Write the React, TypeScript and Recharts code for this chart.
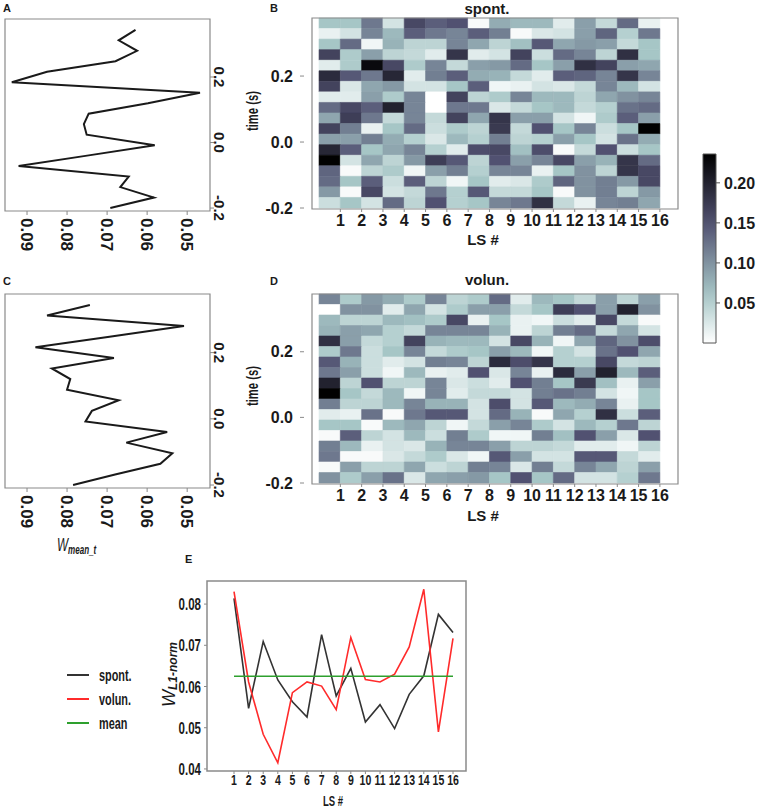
import React from "react"
import {
  ComposedChart,
  LineChart,
  Line,
  XAxis,
  YAxis,
  ReferenceArea,
  Legend,
} from "recharts"

// time bins (s), bottom row first; each bin is TIME_STEP wide
const TIME = [-0.2, -0.168, -0.136, -0.104, -0.072, -0.04, -0.008, 0.024, 0.056, 0.088, 0.12, 0.152, 0.184, 0.216, 0.248, 0.28, 0.312, 0.344]
const TIME_STEP = 0.032
const LS = [1, 2, 3, 4, 5, 6, 7, 8, 9, 10, 11, 12, 13, 14, 15, 16]

// W_mean_t per time bin (same order as TIME)
const SPONT_MEAN_T = [0.0692, 0.0583, 0.0667, 0.0646, 0.0921, 0.075, 0.0581, 0.0751, 0.0758, 0.0746, 0.0598, 0.0468, 0.0938, 0.085, 0.0679, 0.0625, 0.0671, 0.0629]
const VOLUN_MEAN_T = [0.0785, 0.068, 0.0567, 0.0537, 0.0652, 0.055, 0.0754, 0.0738, 0.0671, 0.08, 0.0792, 0.0838, 0.0683, 0.0879, 0.0694, 0.0508, 0.085, 0.0743]

// weights per LS, rows listed from the top (latest bin) down
const SPONT_W = [
  [0.06, 0.06, 0.12, 0.03, 0.16, 0.14, 0.15, 0.005, 0.08, 0.07, 0.07, 0.02, 0.09, 0.04, 0.13, 0.015],
  [0.015, 0.03, 0.11, 0.07, 0.14, 0.12, 0.11, 0.14, 0.115, 0.005, 0.025, 0.03, 0.09, 0.135, 0.05, 0.12],
  [0.06, 0.13, 0.01, 0.075, 0.045, 0.045, 0.11, 0.085, 0.045, 0.065, 0.145, 0.085, 0.095, 0.09, 0.04, 0.06],
  [0.165, 0.055, 0.09, 0.045, 0.04, 0.02, 0.18, 0.02, 0.03, 0.165, 0.035, 0.13, 0.11, 0.045, 0.185, 0.06],
  [0.02, 0.055, 0.225, 0.16, 0.055, 0.11, 0.04, 0.09, 0.095, 0.13, 0.06, 0.09, 0.185, 0.165, 0.09, 0.085],
  [0.19, 0.145, 0.12, 0.195, 0.02, 0.115, 0.14, 0.08, 0.075, 0.04, 0.02, 0.14, 0.135, 0.11, 0.18, 0.11],
  [0.165, 0.025, 0.085, 0.095, 0.03, 0.03, 0.06, 0.14, 0.01, 0.015, 0.03, 0.025, 0.04, 0.11, 0.07, 0.03],
  [0.02, 0.02, 0.09, 0.055, 0.11, 0.0, 0.165, 0.045, 0.055, 0.11, 0.07, 0.07, 0.045, 0.085, 0.1, 0.11],
  [0.13, 0.16, 0.14, 0.2, 0.11, 0.0, 0.12, 0.12, 0.025, 0.04, 0.06, 0.07, 0.04, 0.05, 0.125, 0.13],
  [0.085, 0.17, 0.12, 0.04, 0.11, 0.04, 0.165, 0.085, 0.18, 0.09, 0.09, 0.03, 0.01, 0.055, 0.14, 0.09],
  [0.165, 0.115, 0.015, 0.06, 0.13, 0.035, 0.055, 0.045, 0.175, 0.04, 0.15, 0.06, 0.11, 0.035, 0.06, 0.235],
  [0.09, 0.09, 0.115, 0.08, 0.05, 0.025, 0.07, 0.05, 0.115, 0.045, 0.05, 0.09, 0.06, 0.03, 0.125, 0.08],
  [0.195, 0.14, 0.06, 0.085, 0.11, 0.05, 0.02, 0.155, 0.16, 0.065, 0.155, 0.005, 0.04, 0.15, 0.035, 0.06],
  [0.235, 0.03, 0.085, 0.045, 0.095, 0.17, 0.145, 0.045, 0.15, 0.09, 0.11, 0.16, 0.09, 0.075, 0.18, 0.13],
  [0.135, 0.005, 0.045, 0.055, 0.01, 0.09, 0.115, 0.05, 0.11, 0.11, 0.015, 0.06, 0.1, 0.045, 0.18, 0.16],
  [0.13, 0.06, 0.14, 0.035, 0.14, 0.045, 0.01, 0.06, 0.02, 0.025, 0.055, 0.135, 0.1, 0.115, 0.095, 0.16],
  [0.095, 0.005, 0.16, 0.03, 0.04, 0.12, 0.05, 0.145, 0.04, 0.04, 0.06, 0.005, 0.1, 0.115, 0.045, 0.095],
  [0.035, 0.06, 0.03, 0.13, 0.045, 0.15, 0.05, 0.06, 0.11, 0.12, 0.185, 0.04, 0.015, 0.11, 0.115, 0.085],
]

const VOLUN_W = [
  [0.11, 0.055, 0.095, 0.08, 0.055, 0.11, 0.045, 0.055, 0.13, 0.02, 0.07, 0.06, 0.04, 0.09, 0.045, 0.09],
  [0.0, 0.1, 0.1, 0.02, 0.085, 0.03, 0.055, 0.09, 0.09, 0.04, 0.06, 0.17, 0.15, 0.09, 0.2, 0.1],
  [0.07, 0.045, 0.045, 0.07, 0.065, 0.055, 0.16, 0.015, 0.06, 0.015, 0.01, 0.035, 0.02, 0.16, 0.04, 0.005],
  [0.075, 0.09, 0.085, 0.05, 0.04, 0.11, 0.11, 0.11, 0.075, 0.015, 0.045, 0.115, 0.13, 0.04, 0.085, 0.03],
  [0.185, 0.09, 0.04, 0.05, 0.165, 0.075, 0.07, 0.07, 0.03, 0.16, 0.075, 0.01, 0.085, 0.135, 0.1, 0.155],
  [0.055, 0.12, 0.035, 0.06, 0.11, 0.04, 0.055, 0.06, 0.09, 0.07, 0.01, 0.05, 0.03, 0.125, 0.15, 0.085],
  [0.145, 0.075, 0.035, 0.02, 0.03, 0.115, 0.11, 0.045, 0.19, 0.155, 0.18, 0.05, 0.05, 0.16, 0.04, 0.045],
  [0.12, 0.09, 0.035, 0.01, 0.07, 0.015, 0.02, 0.15, 0.025, 0.11, 0.015, 0.19, 0.09, 0.2, 0.07, 0.14],
  [0.2, 0.045, 0.15, 0.045, 0.045, 0.11, 0.025, 0.035, 0.02, 0.15, 0.115, 0.06, 0.175, 0.065, 0.015, 0.09],
  [0.235, 0.06, 0.04, 0.07, 0.01, 0.11, 0.02, 0.04, 0.04, 0.03, 0.115, 0.125, 0.115, 0.03, 0.01, 0.06],
  [0.115, 0.045, 0.045, 0.07, 0.11, 0.075, 0.075, 0.03, 0.155, 0.03, 0.145, 0.07, 0.08, 0.11, 0.015, 0.06],
  [0.02, 0.015, 0.125, 0.005, 0.12, 0.145, 0.145, 0.03, 0.13, 0.075, 0.005, 0.085, 0.05, 0.185, 0.035, 0.14],
  [0.06, 0.06, 0.005, 0.07, 0.085, 0.045, 0.01, 0.04, 0.09, 0.11, 0.055, 0.03, 0.07, 0.05, 0.12, 0.045],
  [0.005, 0.14, 0.045, 0.03, 0.07, 0.035, 0.115, 0.055, 0.01, 0.01, 0.115, 0.065, 0.15, 0.09, 0.025, 0.15],
  [0.115, 0.07, 0.015, 0.03, 0.025, 0.075, 0.11, 0.11, 0.09, 0.045, 0.045, 0.04, 0.02, 0.02, 0.01, 0.045],
  [0.12, 0.005, 0.005, 0.025, 0.04, 0.055, 0.025, 0.01, 0.145, 0.09, 0.03, 0.03, 0.145, 0.145, 0.04, 0.02],
  [0.005, 0.09, 0.045, 0.045, 0.085, 0.035, 0.045, 0.115, 0.11, 0.025, 0.115, 0.04, 0.11, 0.085, 0.045, 0.09],
  [0.1, 0.055, 0.09, 0.125, 0.025, 0.085, 0.09, 0.095, 0.06, 0.15, 0.06, 0.13, 0.03, 0.03, 0.05, 0.12],
]

// W_L1-norm per LS
const SPONT_L1 = [0.0814, 0.0547, 0.0709, 0.0616, 0.0563, 0.0526, 0.0726, 0.0577, 0.0644, 0.0514, 0.0556, 0.0498, 0.0581, 0.0626, 0.0775, 0.0731]
const VOLUN_L1 = [0.083, 0.0611, 0.0484, 0.0415, 0.0585, 0.0611, 0.0601, 0.0544, 0.0719, 0.0617, 0.0611, 0.063, 0.0696, 0.0836, 0.049, 0.0717]
const MEAN_L1 = 0.0625
const LEGEND_ORDER = ["spont.", "volun.", "mean"]

const TIME_TICKS = [-0.2, 0, 0.2]
const W_TICKS = [0.05, 0.06, 0.07, 0.08, 0.09]
const E_TICKS = [0.04, 0.05, 0.06, 0.07, 0.08]
const CBAR_TICKS = [0.05, 0.1, 0.15, 0.2]
const W_MAX = 0.236

const FONT = "'Liberation Sans', Arial, sans-serif"
const FRAME = "#8a8a8a"
const INK = "#1a1a1a"
const SQUEEZE = 0.68 // panel E lettering is condensed

// matplotlib "bone", used reversed
function bone(x: number) {
  const r = x < 0.746032 ? (0.652778 * x) / 0.746032 : 0.652778 + ((x - 0.746032) / 0.253968) * 0.347222
  const g =
    x < 0.365079
      ? (0.319444 * x) / 0.365079
      : x < 0.746032
        ? 0.319444 + ((x - 0.365079) / 0.380953) * 0.458334
        : 0.777778 + ((x - 0.746032) / 0.253968) * 0.222222
  const b = x < 0.365079 ? (0.444444 * x) / 0.365079 : 0.444444 + ((x - 0.365079) / 0.634921) * 0.555556
  const h = (v: number) => Math.round(Math.max(0, Math.min(1, v)) * 255).toString(16).padStart(2, "0")
  return `#${h(r)}${h(g)}${h(b)}`
}
const weightColor = (v: number) => bone(1 - Math.min(v, W_MAX) / W_MAX)

// rotated ticks for the sideways panels A / C
const RotValueTick = ({ x, y, payload }: any) => (
  <text x={x} y={y} transform={`rotate(90 ${x} ${y})`} dy="0.35em" textAnchor="start"
    fontFamily={FONT} fontWeight="bold" fontSize={17} fill={INK}>
    {Number(payload.value).toFixed(2)}
  </text>
)

const RotTimeTick = ({ x, y, payload }: any) => (
  <text x={x} y={y} transform={`rotate(90 ${x} ${y})`} textAnchor="middle"
    fontFamily={FONT} fontWeight="bold" fontSize={15} fill={INK}>
    {Number(payload.value).toFixed(1)}
  </text>
)

const HeatTimeTick = ({ x, y, payload }: any) => (
  <g>
    <line x1={x - 12} x2={x - 8} y1={y} y2={y} stroke={FRAME} />
    <text x={x - 19} y={y} dy="0.35em" textAnchor="end" fontFamily={FONT} fontWeight="bold" fontSize={16} fill={INK}>
      {Number(payload.value).toFixed(1)}
    </text>
  </g>
)

const NarrowXTick = ({ x, y, payload }: any) => (
  <g transform={`translate(${x},${y}) scale(${SQUEEZE},1)`}>
    <text x={0} y={0} dy="0.72em" textAnchor="middle" fontFamily={FONT} fontWeight="bold" fontSize={15.5} fill={INK}>
      {payload.value}
    </text>
  </g>
)

const NarrowYTick = ({ x, y, payload }: any) => (
  <g transform={`translate(${x},${y}) scale(${SQUEEZE},1)`}>
    <text x={0} y={0} dy="0.36em" textAnchor="end" fontFamily={FONT} fontWeight="bold" fontSize={17} fill={INK}>
      {Number(payload.value).toFixed(2)}
    </text>
  </g>
)

function TimeLinePanel({ values, height }: { values: number[]; height: number }) {
  const data = TIME.map((t, i) => ({ t, w: values[i] }))
  return (
    <LineChart layout="vertical" width={260} height={height} data={data}
      margin={{ top: 19, right: 10, bottom: 9, left: 5 }}>
      <XAxis type="number" domain={[0.0443, 0.0955]} reversed allowDataOverflow ticks={W_TICKS} interval={0}
        height={50} tickSize={4} tickMargin={3} axisLine={false} tickLine={{ stroke: FRAME }} tick={<RotValueTick />} />
      <YAxis type="number" dataKey="t" orientation="right" domain={[-0.209, 0.377]} reversed allowDataOverflow
        ticks={TIME_TICKS} interval={0} width={40} tickSize={4} tickMargin={0} axisLine={false}
        tickLine={{ stroke: FRAME }} tick={<RotTimeTick />} />
      <ReferenceArea x1={0.0443} x2={0.0955} y1={-0.209} y2={0.377} fill="none" stroke={FRAME} strokeWidth={1.2} ifOverflow="visible" />
      <Line dataKey="w" stroke={INK} strokeWidth={2} dot={false} isAnimationActive={false} />
    </LineChart>
  )
}

function HeatPanel({ grid, height }: { grid: number[][]; height: number }) {
  const data = LS.map((ls) => ({ ls }))
  const cells: React.ReactNode[] = []
  grid.forEach((row, r) => {
    const t0 = TIME[TIME.length - 1 - r]
    row.forEach((v, c) => {
      const col = weightColor(v)
      cells.push(
        <ReferenceArea key={`${r}-${c}`} x1={LS[c] - 1} x2={LS[c]} y1={t0} y2={t0 + TIME_STEP}
          fill={col} fillOpacity={1} stroke={col} strokeWidth={0.6} ifOverflow="visible" />
      )
    })
  })
  return (
    <ComposedChart width={460} height={height} data={data} margin={{ top: 18, right: 22, bottom: 8, left: 32 }}>
      <XAxis type="number" dataKey="ls" domain={[-0.33, 16.85]} allowDataOverflow ticks={LS} interval={0} height={32}
        tickSize={3} tickMargin={3} axisLine={false} tickLine={{ stroke: FRAME }}
        tick={{ fontFamily: FONT, fontWeight: "bold", fontSize: 16, fill: INK }} />
      <YAxis type="number" domain={[-0.203, 0.376]} allowDataOverflow ticks={TIME_TICKS} interval={0} width={40}
        tickSize={0} tickMargin={0} axisLine={false} tickLine={false} tick={<HeatTimeTick />} />
      {cells}
      <ReferenceArea x1={-0.33} x2={16.85} y1={-0.203} y2={0.376} fill="none" stroke={FRAME} strokeWidth={1.2} ifOverflow="visible" />
    </ComposedChart>
  )
}

function ColorBar() {
  const stops = [0, 0.1, 0.2, 0.3, 0.4, 0.5, 0.6, 0.7, 0.8, 0.9, 1]
  return (
    <ComposedChart width={70} height={215} data={[{ x: 0 }, { x: 1 }]} margin={{ top: 14, right: 4, bottom: 12, left: 13 }}>
      <defs>
        <linearGradient id="boneR" x1="0" y1="1" x2="0" y2="0">
          {stops.map((s) => (
            <stop key={s} offset={`${s * 100}%`} stopColor={weightColor(s * W_MAX)} />
          ))}
        </linearGradient>
      </defs>
      <XAxis type="number" dataKey="x" domain={[0, 1]} allowDataOverflow hide />
      <YAxis type="number" orientation="right" domain={[0, W_MAX]} allowDataOverflow ticks={CBAR_TICKS} interval={0}
        width={40} tickSize={4} tickMargin={4} axisLine={false} tickLine={{ stroke: "#555" }}
        tickFormatter={(v: number) => v.toFixed(2)}
        tick={{ fontFamily: FONT, fontWeight: "bold", fontSize: 16, fill: INK, textAnchor: "start" }} />
      <ReferenceArea x1={0} x2={1} y1={0} y2={W_MAX} fill="url(#boneR)" fillOpacity={1} stroke="#555" ifOverflow="visible" />
    </ComposedChart>
  )
}

const LegendBox = ({ payload }: any) => {
  const items = [...(payload || [])].sort(
    (a: any, b: any) => LEGEND_ORDER.indexOf(a.value) - LEGEND_ORDER.indexOf(b.value)
  )
  return (
    <svg width={90} height={72}>
      {items.map((p: any, i: number) => (
        <g key={p.value} transform={`translate(0,${12 + i * 24})`}>
          <line x1={0} x2={22} y1={0} y2={0} stroke={p.color} strokeWidth={2} />
          <g transform={`translate(32,0) scale(${SQUEEZE},1)`}>
            <text x={0} y={0} dy="0.36em" fontFamily={FONT} fontWeight="bold" fontSize={16} fill={INK}>{p.value}</text>
          </g>
        </g>
      ))}
    </svg>
  )
}

function L1Panel() {
  const data = LS.map((ls, i) => ({ ls, spont: SPONT_L1[i], volun: VOLUN_L1[i], mean: MEAN_L1 }))
  return (
    <LineChart width={500} height={270} data={data} margin={{ top: 41, right: 34, bottom: 15, left: 157 }}>
      <XAxis type="number" dataKey="ls" domain={[-0.85, 16.89]} allowDataOverflow ticks={LS} interval={0} height={24}
        tickSize={3} tickMargin={0} axisLine={false} tickLine={{ stroke: FRAME }} tick={<NarrowXTick />} />
      <YAxis type="number" domain={[0.0395, 0.0856]} allowDataOverflow ticks={E_TICKS} interval={0} width={50}
        tickSize={3} tickMargin={3} axisLine={false} tickLine={{ stroke: FRAME }} tick={<NarrowYTick />} />
      <ReferenceArea x1={-0.85} x2={16.89} y1={0.0395} y2={0.0856} fill="none" stroke={FRAME} strokeWidth={1.5} ifOverflow="visible" />
      <Line dataKey="spont" name="spont." stroke="#333333" strokeWidth={1.6} dot={false} isAnimationActive={false} />
      <Line dataKey="volun" name="volun." stroke="#ff2b2b" strokeWidth={1.6} dot={false} isAnimationActive={false} />
      <Line dataKey="mean" name="mean" stroke="#2ea02e" strokeWidth={1.6} dot={false} isAnimationActive={false} />
      <Legend layout="vertical" align="center" verticalAlign="middle" content={<LegendBox />}
        wrapperStyle={{ left: 67, top: 123, width: 90 }} />
    </LineChart>
  )
}

const at = (left: number, top: number): React.CSSProperties => ({ position: "absolute", left, top })

export default function App() {
  const letter = { fontFamily: FONT, fontWeight: "bold" as const, fontSize: 11, fill: INK }
  const title = { fontFamily: FONT, fontWeight: "bold" as const, fontSize: 15, fill: INK }
  return (
    <div style={{ position: "absolute", left: 0, top: 0, width: 760, height: 810, background: "#fff", overflow: "hidden" }}>
      <div style={at(0, 0)}><TimeLinePanel values={SPONT_MEAN_T} height={270} /></div>
      <div style={at(0, 275)}><TimeLinePanel values={VOLUN_MEAN_T} height={272} /></div>
      <div style={at(240, 0)}><HeatPanel grid={SPONT_W} height={249} /></div>
      <div style={at(240, 276)}><HeatPanel grid={VOLUN_W} height={248} /></div>
      <div style={at(690, 140)}><ColorBar /></div>
      <div style={at(0, 540)}><L1Panel /></div>

      <svg width={760} height={810} style={{ position: "absolute", left: 0, top: 0, pointerEvents: "none" }}>
        <text x={3} y={12} {...letter}>A</text>
        <text x={270} y={12} {...letter}>B</text>
        <text x={3} y={285} {...letter}>C</text>
        <text x={270} y={285} {...letter}>D</text>
        <text x={185} y={563} {...letter}>E</text>

        <text x={487} y={14} textAnchor="middle" {...title}>spont.</text>
        <text x={487} y={285} textAnchor="middle" {...title}>volun.</text>

        <text x={258} y={111} transform="rotate(-90 258 111)" textAnchor="middle" textLength={40}
          lengthAdjust="spacingAndGlyphs" fontFamily={FONT} fontWeight="bold" fontSize={16} fill={INK}>time (s)</text>
        <text x={258} y={386} transform="rotate(-90 258 386)" textAnchor="middle" textLength={40}
          lengthAdjust="spacingAndGlyphs" fontFamily={FONT} fontWeight="bold" fontSize={16} fill={INK}>time (s)</text>

        <text x={483} y={245} textAnchor="middle" {...title}>LS #</text>
        <text x={483} y={521} textAnchor="middle" {...title}>LS #</text>
        <g transform={`translate(333,805.5) scale(${SQUEEZE},1)`}>
          <text x={0} y={0} textAnchor="middle" fontFamily={FONT} fontWeight="bold" fontSize={14} fill={INK}>LS #</text>
        </g>

        <g transform={`translate(57,551) scale(0.62,1)`}>
          <text x={0} y={0} fontFamily={FONT} fontStyle="italic" fill={INK}>
            <tspan fontSize={19}>W</tspan>
            <tspan fontSize={13} dy={3} fontWeight="bold">mean_t</tspan>
          </text>
        </g>
        <text x={175} y={707} transform="rotate(-90 175 707)" fontFamily={FONT} fontStyle="italic" fill={INK}>
          <tspan fontSize={18}>W</tspan>
          <tspan fontSize={12} dy={2} fontWeight="bold">L1-norm</tspan>
        </text>
      </svg>
    </div>
  )
}
